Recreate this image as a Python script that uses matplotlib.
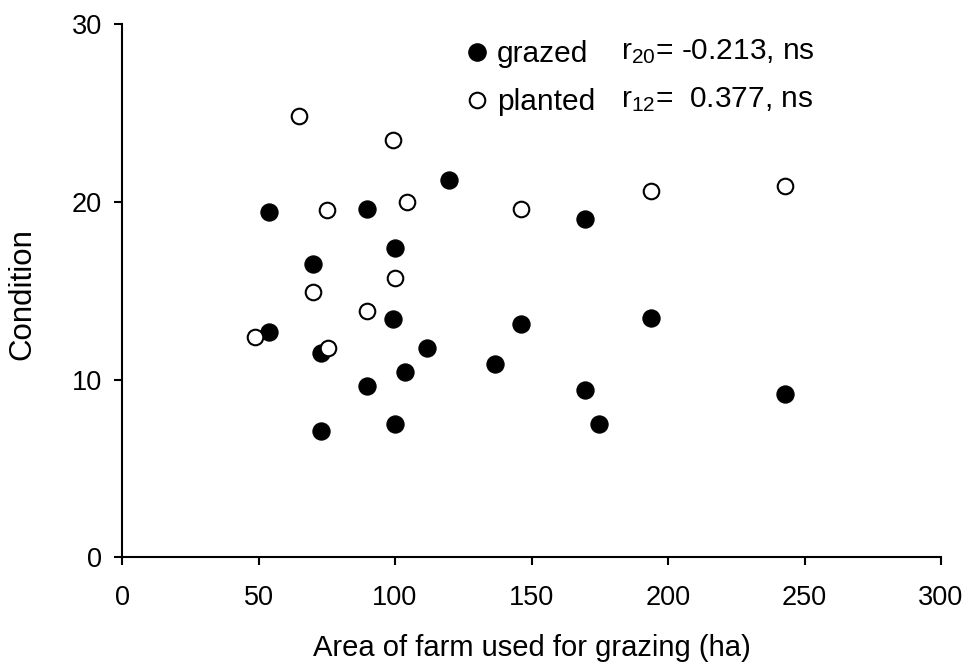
import matplotlib
matplotlib.use("Agg")
import matplotlib.pyplot as plt
from matplotlib.lines import Line2D

plt.rcParams['font.family'] = ['Liberation Sans', 'DejaVu Sans']
plt.rcParams['mathtext.fontset'] = 'custom'
plt.rcParams['mathtext.rm'] = 'Liberation Sans'
plt.rcParams['mathtext.it'] = 'Liberation Sans:italic'

grazed_area = [54.0, 89.7, 119.8, 100.0, 70.0, 169.6, 99.4, 146.2, 54.0, 72.9,
               111.7, 103.7, 136.7, 89.7, 169.7, 72.9, 100.0, 174.7, 193.8, 243.0]
grazed_cond = [19.44, 19.62, 21.22, 17.39, 16.49, 19.06, 13.43, 13.13, 12.68, 11.52,
               11.77, 10.42, 10.88, 9.63, 9.40, 7.13, 7.49, 7.49, 13.50, 9.17]

planted_area = [64.8, 99.2, 75.0, 104.4, 99.9, 70.0, 146.2, 193.8, 243.0, 89.6, 48.7, 75.3]
planted_cond = [24.84, 23.47, 19.55, 20.00, 15.70, 14.93, 19.62, 20.64, 20.90, 13.88, 12.42, 11.77]

x_ticks = [0, 50, 100, 150, 200, 250, 300]
y_ticks = [0, 10, 20, 30]

W, H = 969, 665
x0px, x1px = 122, 941
y0px, y1px = 557.4, 24.3

fig = plt.figure(figsize=(W / 100, H / 100), dpi=100)
ax = fig.add_axes([x0px / W, 1 - y0px / H, (x1px - x0px) / W, (y0px - y1px) / H])
axw, axh = x1px - x0px, y0px - y1px

ms = 12.4
ax.plot(grazed_area, grazed_cond, 'o', ms=ms, mfc='black', mec='black', mew=0.8,
        linestyle='none', zorder=3)
ax.plot(planted_area, planted_cond, 'o', ms=ms - 1.2, mfc='white', mec='black', mew=1.5,
        linestyle='none', zorder=4)

ax.set_xlim(0, 300)
ax.set_ylim(0, 30)
ax.set_xticks(x_ticks)
ax.set_yticks(y_ticks)
for s in ['top', 'right']:
    ax.spines[s].set_visible(False)
for s in ['left', 'bottom']:
    ax.spines[s].set_linewidth(1.5)
ax.tick_params(direction='out', length=6, width=1.5, labelsize=19.5)
ax.tick_params(axis='x', pad=14)
ax.tick_params(axis='y', pad=8.5)

ax.set_xlabel('Area of farm used for grazing (ha)', fontsize=21, va='center')
ax.xaxis.set_label_coords(0.5, (y0px - 648) / axh)
ax.set_ylabel('Condition', fontsize=22.5, va='center')
ax.yaxis.set_label_coords((22 - x0px) / axw, (y0px - 294) / axh)

fs_leg = 21.5
handles = [
    Line2D([], [], marker='o', linestyle='none', ms=ms, mfc='black', mec='black'),
    Line2D([], [], marker='o', linestyle='none', ms=ms - 1.2, mfc='white', mec='black', mew=1.5),
]
leg = ax.legend(handles, ['grazed', 'planted'], loc='upper left',
                bbox_to_anchor=((468 - x0px) / axw, (y0px - 40.5) / axh),
                frameon=False, fontsize=fs_leg, handlelength=0.6, handletextpad=0.36,
                labelspacing=0.66, borderpad=0, borderaxespad=0)

fig.text(621 / W, 1 - 52 / H, r'r$_{\mathrm{20}}$= -0.213, ns', fontsize=fs_leg, va='center', ha='left')
fig.text(621 / W, 1 - 100 / H, r'r$_{\mathrm{12}}$=  0.377, ns', fontsize=fs_leg, va='center', ha='left')

fig.savefig('out.png', dpi=100)
